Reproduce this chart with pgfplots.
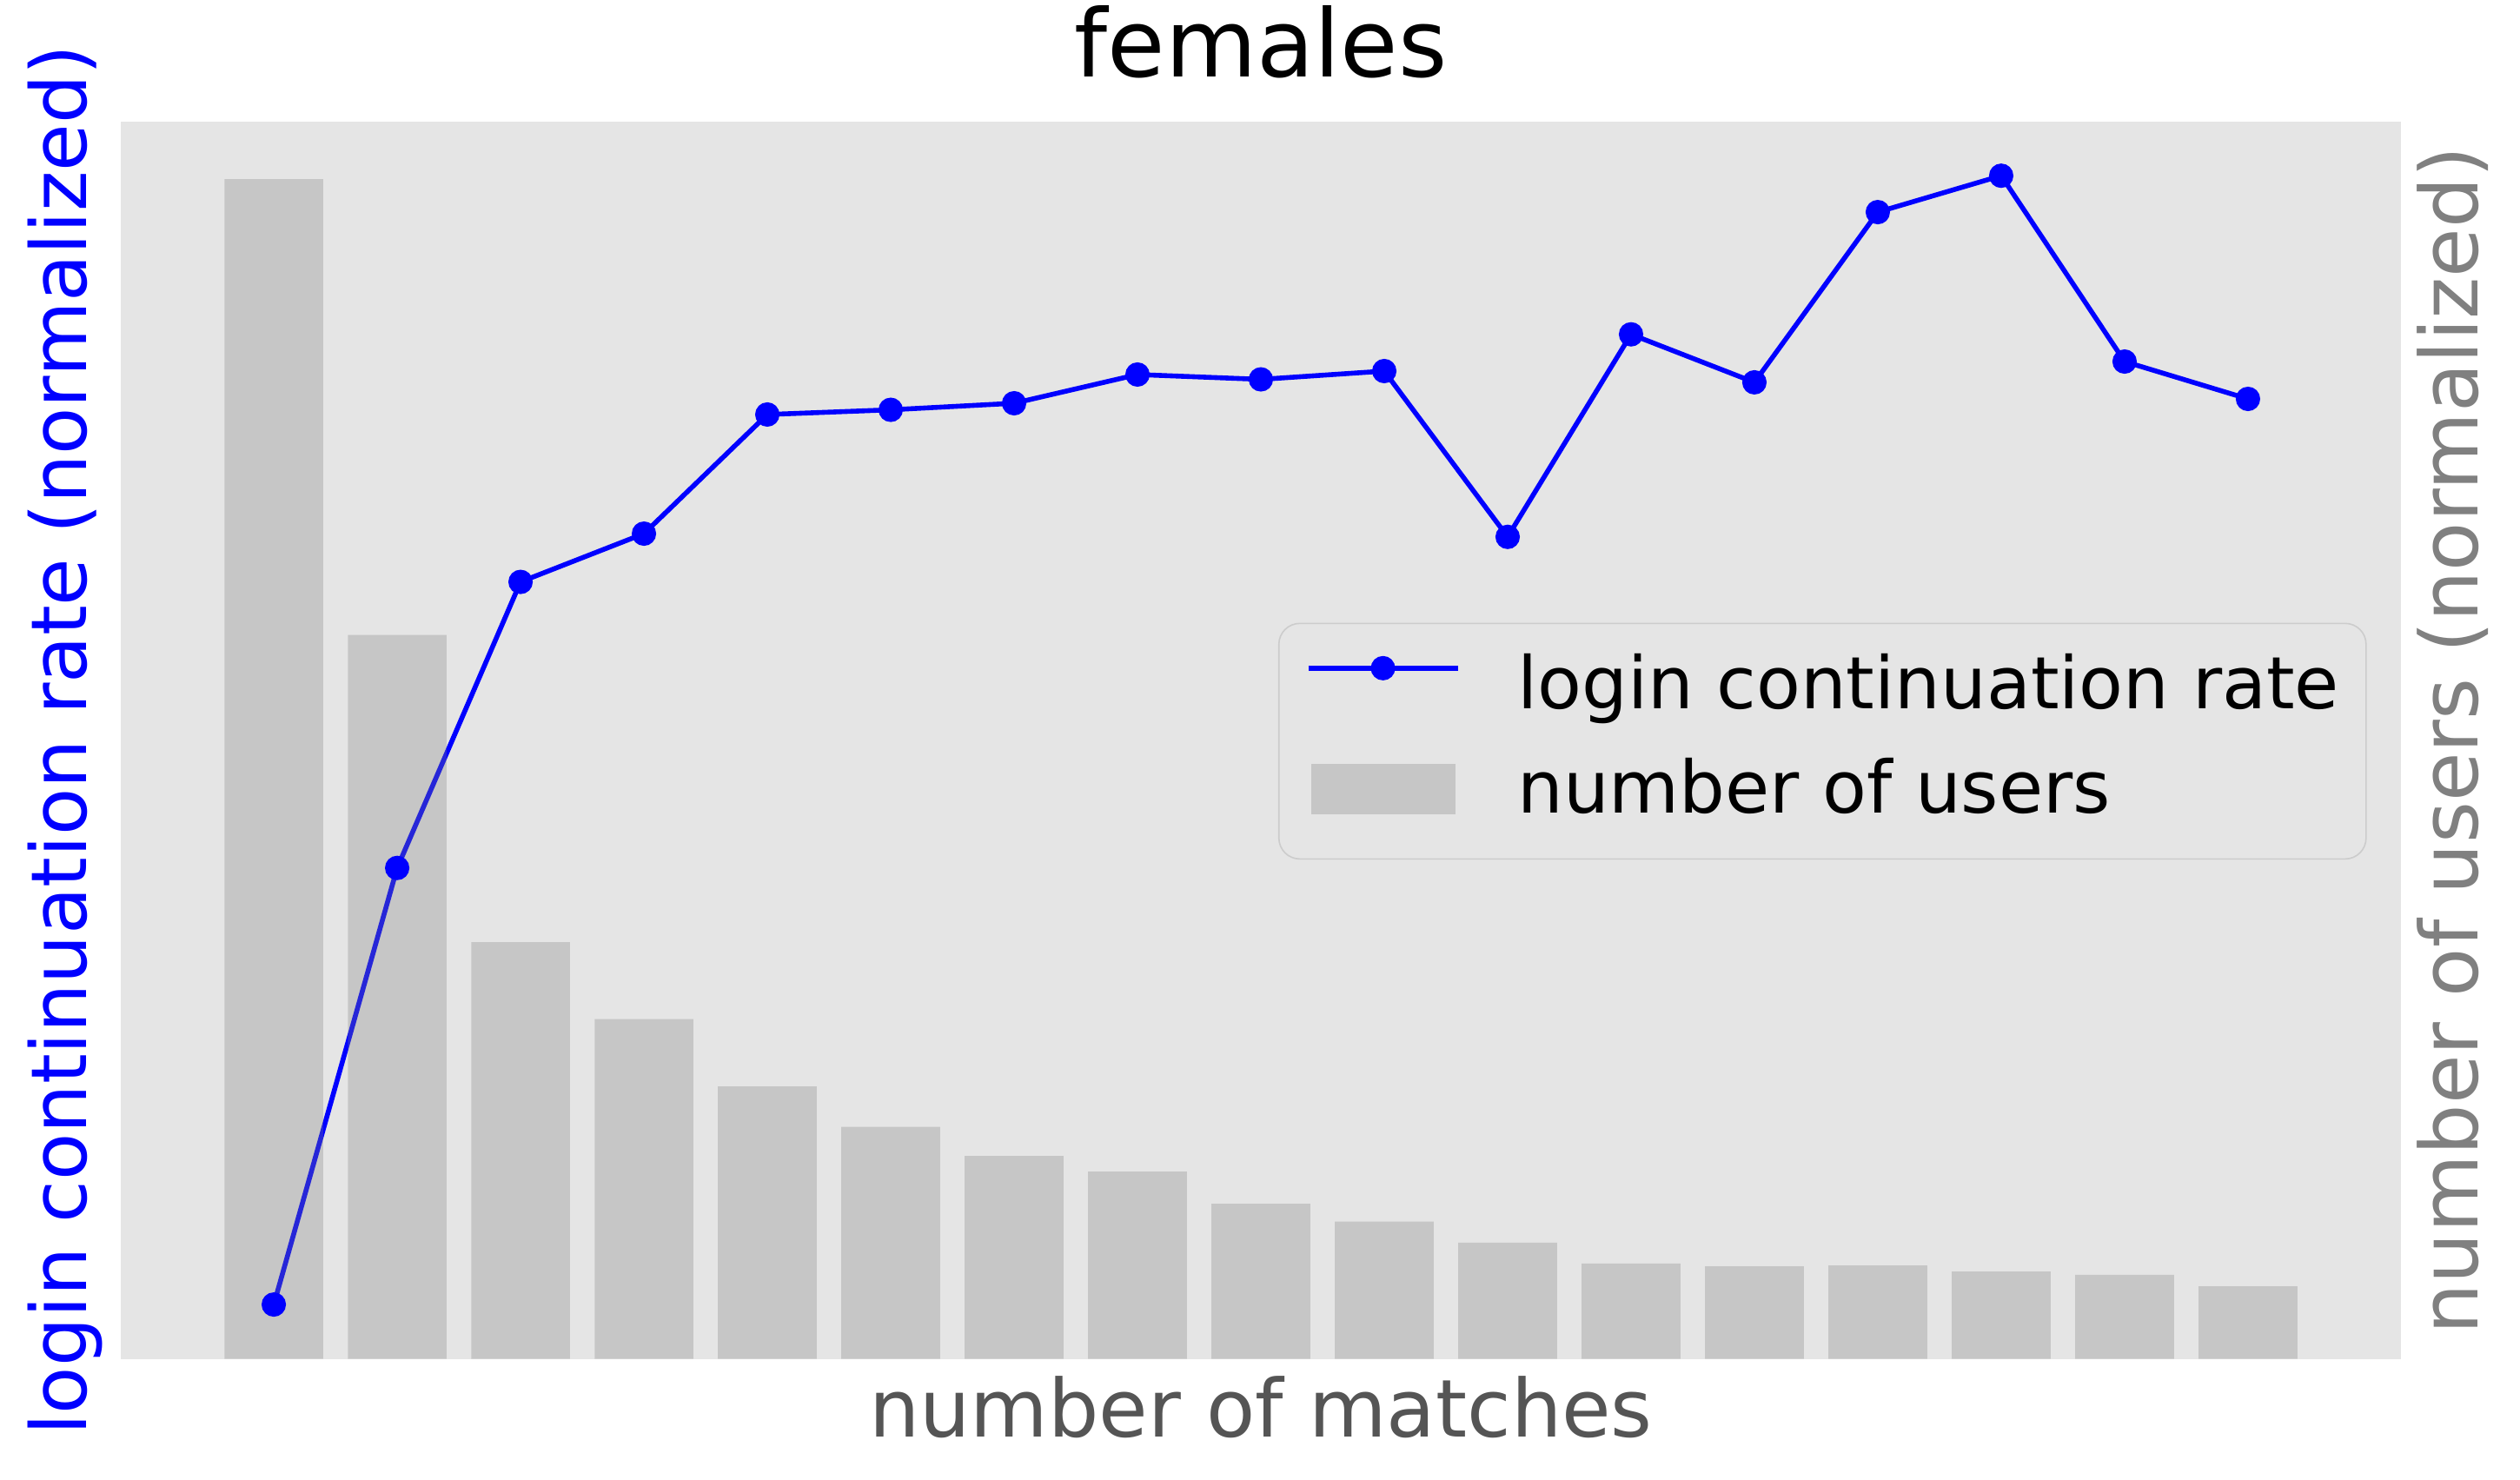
\documentclass[border=0pt]{standalone}
\usepackage{pgfplots}
\pgfplotsset{compat=1.18}
\usepackage{fontspec}
\setmainfont{DejaVu Sans}
\definecolor{bgGray}{HTML}{E5E5E5}
\definecolor{legEdge}{HTML}{CCCCCC}
\definecolor{labGray}{HTML}{555555}
\definecolor{barGray}{HTML}{808080}

% normalized values, 0 = bottom of the axis, 1 = top
\pgfplotstableread{
x  rate    users
0  0.0439  0.9536
1  0.3968  0.5851
2  0.6280  0.3368
3  0.6670  0.2746
4  0.7633  0.2202
5  0.7671  0.1876
6  0.7724  0.1640
7  0.7956  0.1514
8  0.7917  0.1254
9  0.7984  0.1109
10 0.6644  0.0940
11 0.8281  0.0771
12 0.7893  0.0748
13 0.9269  0.0755
14 0.9563  0.0706
15 0.8061  0.0680
16 0.7759  0.0587
}\femaledata

\begin{document}
\begin{tikzpicture}
\begin{axis}[
  at={(0,0)}, anchor=south west,
  width=656pt, height=355.9pt, scale only axis,
  xmin=-1.24, xmax=17.24, ymin=0, ymax=1,
  xtick=\empty, ytick=\empty,
  axis line style={draw=none},
  axis background/.style={fill=bgGray},
  clip=false,
  title={females},
  title style={font=\fontsize{27}{32}\selectfont, at={(axis description cs:0.5,1.019)}, anchor=base},
  xlabel={number of matches},
  xlabel style={font=\fontsize{23}{28}\selectfont, text=labGray, at={(axis description cs:0.5,-0.0629)}, anchor=base},
  ylabel={login continuation rate (normalized)},
  ylabel style={font=\fontsize{22.2}{27}\selectfont, text=blue, at={(axis description cs:-0.01513,0.5)}, anchor=base, rotate=0},
  legend style={at={(axis description cs:0.5076,0.595)}, anchor=north west,
    draw=legEdge, fill=bgGray, rounded corners=6pt,
    font=\fontsize{20.8}{25}\selectfont,
    inner xsep=7.75pt, inner ysep=8pt, row sep=8.25pt, column sep=16.5pt,
    nodes={inner sep=0pt, text height=16.5pt, text depth=5.25pt}},
  legend cell align=left,
]
\addplot[blue, line width=1.4pt, mark=*, mark size=2.8pt,
  legend image code/.code={%
    \draw[sharp corners, mark repeat=2,mark phase=2] plot coordinates {(0pt,6pt) (21.5pt,6pt) (43pt,6pt)};
    \path[draw=none, fill=none] (0pt,2.5pt) rectangle (43pt,9.5pt);}]
  table[x=x, y=rate] {\femaledata};
\addlegendentry{login continuation rate}
\addplot[ybar, bar width=0.8, bar shift=0pt, draw=none, fill=barGray, fill opacity=0.3,
  legend image code/.code={%
    \fill[overlay, sharp corners, barGray, fill opacity=0.3] (0.75pt,-6pt) rectangle (42.25pt,8.5pt);
    \path[draw=none, fill=none] (0pt,2.5pt) rectangle (43pt,9.5pt);}]
  table[x=x, y=users] {\femaledata};
\addlegendentry{number of users}
\node[rotate=90, anchor=base, text=barGray, font=\fontsize{23}{28}\selectfont]
  at (axis description cs:1.03354,0.5) {number of users (normalized)};
\end{axis}
\pgfresetboundingbox
\path[use as bounding box] (-34.75pt,-34.6pt) rectangle (690.25pt,390.9pt);
\end{tikzpicture}
\end{document}
